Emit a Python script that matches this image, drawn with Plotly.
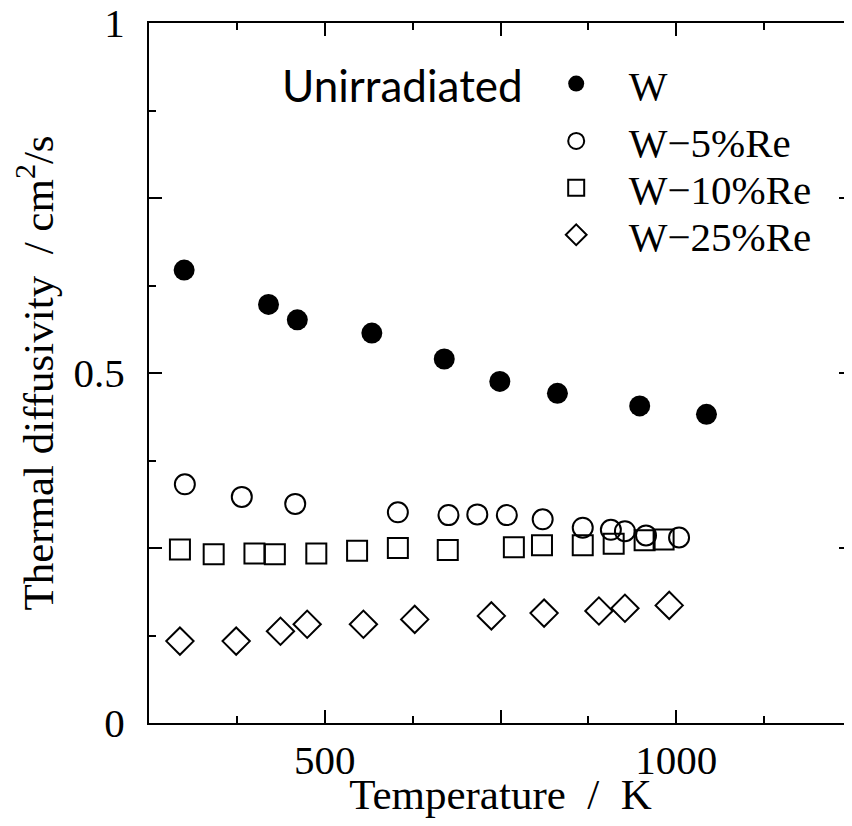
import plotly.graph_objects as go

# ---- data ----
w_T = [300, 420, 461, 567, 670, 749, 831, 948, 1043]
w_D = [0.647, 0.598, 0.576, 0.557, 0.520, 0.488, 0.471, 0.453, 0.441]

re5_T = [301, 382, 458, 604, 676, 717, 759, 810, 867, 907, 927, 957, 1004]
re5_D = [0.341, 0.323, 0.313, 0.301, 0.297, 0.298, 0.297, 0.291, 0.279, 0.276, 0.274, 0.268, 0.265]

re10_T = [294, 342, 400, 429, 488, 546, 604, 675, 769, 809, 867, 911, 955, 982]
re10_D = [0.248, 0.241, 0.242, 0.241, 0.242, 0.246, 0.250, 0.247, 0.251, 0.254, 0.254, 0.256, 0.261, 0.262]

re25_T = [294, 374, 437, 475, 555, 628, 737, 812, 890, 927, 990]
re25_D = [0.117, 0.117, 0.131, 0.141, 0.141, 0.148, 0.153, 0.157, 0.160, 0.164, 0.168]

series_names = ["W", "W\u22125%Re", "W\u221210%Re", "W\u221225%Re"]

x_major = [250, 500, 750, 1000, 1250]
x_major_text = ["", "500", "", "1000", ""]
x_minor = [375, 625, 875, 1125]
y_major = [0, 0.25, 0.5, 0.75, 1]
y_major_text = ["0", "", "0.5", "", "1"]
y_minor = [0.125, 0.375, 0.625, 0.875]

SERIF = "Liberation Serif, Times New Roman, serif"

legend_ids = ["legend", "legend2", "legend3", "legend4"]
legend_rows_y = [0.913, 0.831, 0.764, 0.697]

fig = go.Figure()
fig.add_trace(go.Scatter(x=w_T, y=w_D, mode="markers", name=series_names[0],
                         legend=legend_ids[0],
                         marker=dict(symbol="circle", size=21, color="black",
                                     line=dict(color="black", width=0))))
fig.add_trace(go.Scatter(x=re5_T, y=re5_D, mode="markers", name=series_names[1],
                         legend=legend_ids[1],
                         marker=dict(symbol="circle-open", size=20, color="black",
                                     line=dict(color="black", width=2))))
fig.add_trace(go.Scatter(x=re10_T, y=re10_D, mode="markers", name=series_names[2],
                         legend=legend_ids[2],
                         marker=dict(symbol="square-open", size=20, color="black",
                                     line=dict(color="black", width=2))))
fig.add_trace(go.Scatter(x=re25_T, y=re25_D, mode="markers", name=series_names[3],
                         legend=legend_ids[3],
                         marker=dict(symbol="diamond-open", size=21, color="black",
                                     line=dict(color="black", width=2))))

axis_common = dict(
    showline=True, linecolor="black", linewidth=2, mirror="ticks",
    ticks="inside", ticklen=13, tickwidth=2, tickcolor="black",
    showgrid=False, zeroline=False, automargin=False,
    ticklabeloverflow="allow",
    tickfont=dict(family=SERIF, size=41, color="black"),
)

fig.update_xaxes(
    range=[250, 1250], tickmode="array", tickvals=x_major, ticktext=x_major_text,
    minor=dict(tickmode="array", tickvals=x_minor, ticks="inside", ticklen=7,
               tickwidth=2, tickcolor="black", showgrid=False),
    title=dict(text="Temperature  /  K", font=dict(family=SERIF, size=43, color="black"),
               standoff=7),
    ticklabelstandoff=0,
    **axis_common,
)
fig.update_yaxes(
    range=[0, 1], tickmode="array", tickvals=y_major, ticktext=y_major_text,
    minor=dict(tickmode="array", tickvals=y_minor, ticks="inside", ticklen=7,
               tickwidth=2, tickcolor="black", showgrid=False),
    title=dict(text="Thermal diffusivity\u00a0\u00a0/ cm<sup>2</sup>/s",
               font=dict(family=SERIF, size=43, color="black"), standoff=19),
    ticklabelstandoff=14,
    **axis_common,
)

fig.add_annotation(text="Unirradiated", xref="paper", yref="paper",
                   x=0.186, y=0.912, xanchor="left", yanchor="middle",
                   showarrow=False, font=dict(family="Lato", size=44, color="black"))

legend_style = dict(x=0.533, xanchor="left", yanchor="middle",
                    font=dict(family=SERIF, size=41, color="black"),
                    itemwidth=95, bgcolor="rgba(0,0,0,0)", borderwidth=0)

fig.update_layout(
    width=844, height=810,
    margin=dict(l=141, r=0, t=15, b=95),
    paper_bgcolor="white", plot_bgcolor="white",
    font=dict(family=SERIF),
    showlegend=True,
)
for lid, ly in zip(legend_ids, legend_rows_y):
    fig.update_layout({lid: dict(y=ly, **legend_style)})

fig.write_html("out.html")
